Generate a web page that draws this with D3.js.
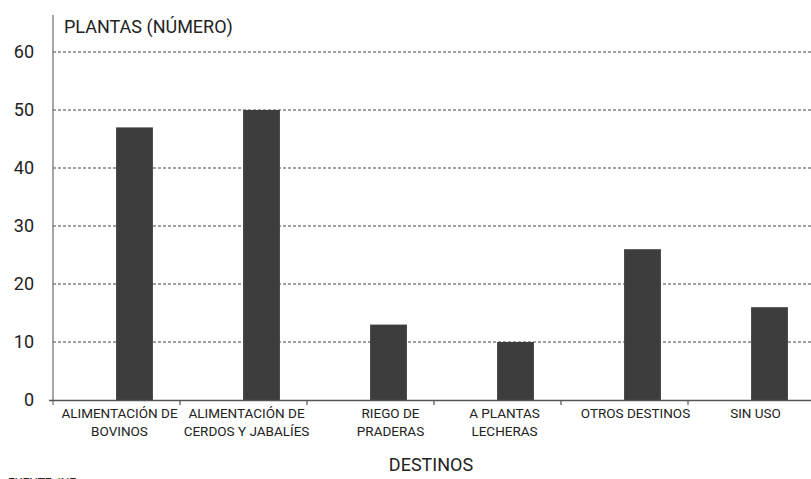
<!DOCTYPE html>
<html><head><meta charset="utf-8">
<script src="https://cdn.jsdelivr.net/npm/d3@7"></script>
<style>
body{margin:0;background:#fff;}
svg text{font-family:"Liberation Sans Narrow","Roboto","Liberation Sans",sans-serif;fill:#222;}
</style></head>
<body><svg id="c" width="811" height="479"></svg>
<script>
const categories = [["ALIMENTACIÓN DE","BOVINOS"],["ALIMENTACIÓN DE","CERDOS Y JABALÍES"],["RIEGO DE","PRADERAS"],["A PLANTAS","LECHERAS"],["OTROS DESTINOS"],["SIN USO"]];
const values = [47, 50, 13, 10, 26, 16];
const yTicks = [0, 10, 20, 30, 40, 50, 60];
const yTitle = "PLANTAS (NÚMERO)";
const xTitle = "DESTINOS";
const source = "FUENTE: INE";

(function () {
const svg = d3.select("#c");
const mLeft = 53, mRight = 815, mTop = 52, mBottom = 400;
const x = d3.scaleBand().domain(d3.range(categories.length)).range([mLeft, mRight]).padding(0);
const y = d3.scaleLinear().domain([0, 60]).range([mBottom, mTop]);
const bw = x.bandwidth();
const barW = bw * 0.29;

// gridlines
svg.append("g").selectAll("line").data(yTicks.filter(d => d > 0)).join("line")
  .attr("x1", mLeft).attr("x2", 811).attr("y1", d => y(d)).attr("y2", d => y(d))
  .attr("stroke", "#444").attr("stroke-width", 1).attr("stroke-dasharray", "3,2");

// bars
svg.append("g").selectAll("rect").data(values).join("rect")
  .attr("x", (d, i) => x(i) + bw / 2 + 18 - barW / 2)
  .attr("width", barW)
  .attr("y", d => y(d)).attr("height", d => y(0) - y(d))
  .attr("fill", "#3d3d3d");

// y axis line
svg.append("line").attr("x1", mLeft).attr("x2", mLeft).attr("y1", 15).attr("y2", mBottom + 5)
  .attr("stroke", "#777").attr("stroke-width", 1.3);
// x axis line
svg.append("line").attr("x1", 49).attr("x2", 811).attr("y1", mBottom + 0.5).attr("y2", mBottom + 0.5)
  .attr("stroke", "#555").attr("stroke-width", 1.3);
// x ticks
svg.append("g").selectAll("line").data(d3.range(categories.length)).join("line")
  .attr("x1", i => x(i) + bw).attr("x2", i => x(i) + bw)
  .attr("y1", mBottom).attr("y2", mBottom + 5).attr("stroke", "#555").attr("stroke-width", 1.2);

// y tick labels
svg.append("g").selectAll("text").data(yTicks).join("text")
  .attr("x", 34).attr("y", d => y(d) + 6).attr("text-anchor", "end")
  .attr("font-size", 18).text(d => d);

// category labels
const labelOffsets = [3, 3, 20, 7, 11, 4];
const lg = svg.append("g").selectAll("text").data(categories).join("text")
  .attr("text-anchor", "middle").attr("font-size", 13.5)
  .attr("x", (d, i) => x(i) + bw / 2 + labelOffsets[i]).attr("y", 418);
lg.selectAll("tspan").data(d => d).join("tspan")
  .attr("x", function () { return d3.select(this.parentNode).attr("x"); })
  .attr("dy", (d, j) => j === 0 ? 0 : 18).text(d => d);

svg.append("text").attr("x", 64).attr("y", 33).attr("font-size", 18).text(yTitle);
svg.append("text").attr("x", 431).attr("y", 471).attr("text-anchor", "middle").attr("font-size", 18).text(xTitle);
svg.append("text").attr("x", 8).attr("y", 487).attr("font-size", 12).text(source);
})();
</script></body></html>
